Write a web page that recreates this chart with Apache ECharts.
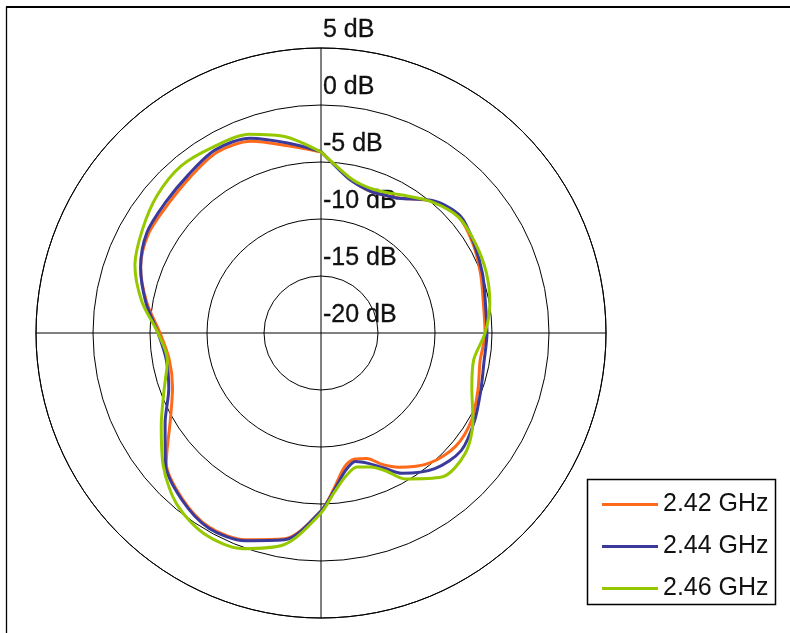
<!DOCTYPE html>
<html>
<head>
<meta charset="utf-8">
<script src="https://cdn.jsdelivr.net/npm/echarts@6/dist/echarts.min.js"></script>
<style>
  html, body { margin: 0; padding: 0; background: #fff; }
  #chart { width: 790px; height: 633px; }
</style>
</head>
<body>
<div id="chart"></div>
<script>
// angles in degrees, 0 = top, clockwise
const angles = [0, 10, 15, 20, 25, 30, 40, 50, 60, 70, 80, 90, 100, 110, 120, 130, 140, 150, 155, 160, 165, 170, 175,
  180, 190, 200, 210, 220, 230, 240, 250, 260, 270, 280, 290, 300, 310, 320, 330, 340, 350, 360]

// gain in dB
const gain242 = [-4.12, -6.14, -6.67, -6.84, -6.67, -6.32, -4.91, -4.21, -4.56, -5.09, -5.53, -5.61, -5.83, -5.35, -4.74, -4.56, -5.13, -6.40, -7.28, -8.29, -8.55, -8.07, -6.40,
  -4.39, -1.67, -0.70, -0.35, -1.05, -2.28, -4.74, -6.14, -6.49, -5.88, -4.47, -3.16, -2.54, -2.46, -2.15, -1.71, -2.11, -3.33, -4.12]
const gain244 = [-4.08, -6.23, -6.67, -6.84, -6.67, -6.36, -4.82, -4.04, -4.47, -4.91, -5.35, -5.44, -5.48, -5.09, -4.47, -3.95, -4.47, -5.79, -6.93, -7.83, -8.33, -7.72, -6.23,
  -4.39, -1.58, -0.61, -0.26, -0.96, -2.19, -4.21, -5.79, -6.23, -5.70, -4.39, -3.16, -2.37, -2.19, -1.89, -1.45, -1.82, -3.07, -4.08]
const gain246 = [-4.12, -6.08, -6.49, -6.58, -6.40, -6.00, -4.96, -4.21, -4.34, -4.56, -4.96, -5.61, -6.40, -5.92, -4.61, -3.51, -3.51, -5.22, -6.67, -7.48, -7.82, -7.28, -6.05,
  -4.21, -1.14, 0.13, 0.38, -0.35, -1.93, -3.82, -5.35, -6.32, -5.70, -4.04, -2.63, -1.90, -1.23, -0.88, -1.14, -1.45, -2.54, -4.12]

const seriesNames = ['2.42 GHz', '2.44 GHz', '2.46 GHz']
const seriesColors = ['#ff6a1a', '#3a3a9c', '#96c800']
const radiusTicks = { min: -20, max: 5, step: 5 }

const chart = echarts.init(document.getElementById('chart'))

function toPolar(vals) {
  return vals.map((v, i) => [v, angles[i]])
}

const gains = [gain242, gain244, gain246]
const font = 'Liberation Sans'

chart.setOption({
  animation: false,
  backgroundColor: '#fff',
  polar: { center: [321, 333], radius: 285 },
  angleAxis: {
    type: 'value', min: 0, max: 360, interval: 90, startAngle: 90, clockwise: true,
    axisLine: { lineStyle: { color: '#000', width: 1 } },
    axisTick: { show: false },
    axisLabel: { show: false },
    splitLine: { show: true, lineStyle: { color: '#000', width: 1 } }
  },
  radiusAxis: {
    type: 'value', min: radiusTicks.min, max: radiusTicks.max, interval: radiusTicks.step,
    axisLine: { show: false },
    axisTick: { show: false },
    splitLine: { show: true, lineStyle: { color: '#000', width: 1 } },
    axisLabel: {
      formatter: '{value} dB', fontSize: 25, color: '#111', fontFamily: font,
      align: 'left', verticalAlign: 'bottom', margin: -2, padding: [0, 0, 5, 0],
      textBorderColor: '#111', textBorderWidth: 0.3,
      showMinLabel: true, showMaxLabel: true
    }
  },
  legend: {
    orient: 'vertical', left: 597, top: 487, itemWidth: 56, itemHeight: 3, itemGap: 17,
    icon: 'path://M0,0 L56,0 L56,3 L0,3 Z',
    textStyle: { fontSize: 25, color: '#111', fontFamily: font, lineHeight: 25 },
    data: seriesNames
  },
  graphic: [
    { type: 'rect', shape: { x: 587.5, y: 479.5, width: 188, height: 125 }, style: { fill: '#fff', stroke: '#000', lineWidth: 1.5 }, z: -1 },
    { type: 'line', shape: { x1: 6, y1: 7, x2: 800, y2: 7 }, style: { stroke: '#000', lineWidth: 2 } },
    { type: 'line', shape: { x1: 6.5, y1: 7, x2: 6.5, y2: 640 }, style: { stroke: '#000', lineWidth: 1.3 } }
  ],
  series: gains.map((g, i) => ({
    name: seriesNames[i],
    type: 'line',
    coordinateSystem: 'polar',
    symbol: 'none',
    smooth: 0.3,
    color: seriesColors[i],
    lineStyle: { width: 3, color: seriesColors[i] },
    data: toPolar(g)
  }))
})
</script>
</body>
</html>
